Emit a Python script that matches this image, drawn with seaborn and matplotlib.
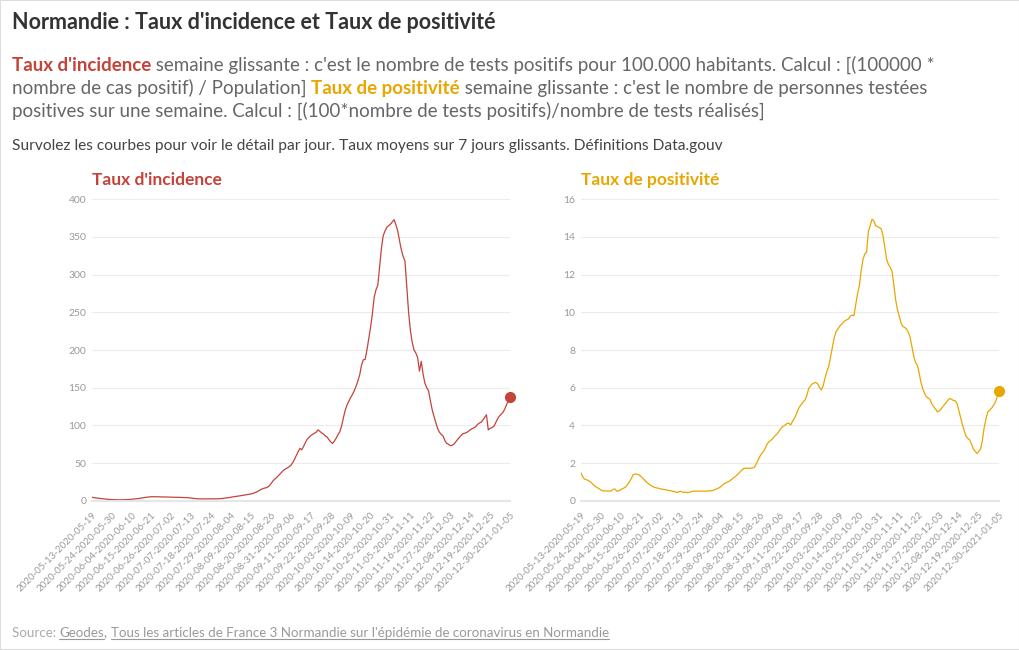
import numpy as np
import pandas as pd
import matplotlib
matplotlib.use("Agg")
import matplotlib.pyplot as plt
from matplotlib.lines import Line2D
from matplotlib.patches import Rectangle
import seaborn as sns

# Rolling 7-day windows, labelled by start date - end date
start_dates = pd.date_range("2020-05-13", "2020-12-30", freq="D")
semaines = [d.strftime("%Y-%m-%d") + "-" + (d + pd.Timedelta(days=6)).strftime("%Y-%m-%d")
            for d in start_dates]

# Taux d'incidence (pour 100.000 habitants)
incidence = [
    4.5, 4.1, 3.8, 3.5, 3.2, 2.9, 2.6, 2.3, 2.0, 1.8,
    1.6, 1.5, 1.4, 1.3, 1.3, 1.2, 1.2, 1.2, 1.3, 1.4,
    1.5, 1.7, 1.9, 2.1, 2.3, 2.6, 3.0, 3.4, 3.8, 4.2,
    4.5, 4.8, 5.1, 5.3, 5.3, 5.2, 5.2, 5.1, 5.0, 5.0,
    5.0, 4.9, 4.8, 4.8, 4.7, 4.6, 4.6, 4.5, 4.5, 4.4,
    4.3, 4.2, 4.1, 4.0, 3.7, 3.4, 3.1, 2.8, 2.6, 2.5,
    2.5, 2.4, 2.4, 2.4, 2.5, 2.5, 2.5, 2.4, 2.5, 2.5,
    2.6, 2.7, 2.9, 3.2, 3.5, 3.8, 4.2, 4.7, 5.1, 5.5,
    5.8, 6.1, 6.5, 6.9, 7.3, 7.7, 8.1, 8.5, 9.0, 9.6,
    10.5, 11.5, 12.8, 14.2, 15.5, 16.4, 17.0, 17.8, 19.5, 22.5,
    26.0, 28.5, 30.5, 33.0, 35.5, 38.0, 40.5, 42.0, 43.5, 45.0,
    47.0, 50.5, 55.0, 60.0, 65.0, 69.5, 67.5, 72.0, 77.0, 81.5,
    84.0, 86.5, 88.0, 89.5, 91.0, 94.0, 92.0, 90.0, 88.5, 86.0,
    84.5, 81.0, 78.0, 76.0, 79.0, 83.0, 87.5, 91.5, 99.0, 110.0,
    120.0, 127.0, 132.0, 137.0, 141.0, 146.0, 152.0, 159.0, 167.0, 180.0,
    187.0, 187.5, 200.0, 215.0, 230.0, 248.0, 270.0, 280.0, 286.0, 310.0,
    335.0, 352.0, 358.0, 363.0, 365.0, 367.0, 370.0, 373.0, 366.0, 358.0,
    345.0, 333.0, 324.0, 318.0, 285.0, 250.0, 226.0, 210.0, 200.0, 196.0,
    190.0, 172.0, 185.0, 168.0, 156.0, 150.0, 146.0, 133.0, 121.0, 112.0,
    104.0, 96.0, 91.0, 88.0, 86.0, 80.0, 76.0, 75.0, 73.0, 73.5,
    75.0, 78.0, 81.0, 84.0, 86.5, 89.0, 89.5, 90.5, 92.0, 94.0,
    95.5, 96.5, 98.0, 101.0, 103.0, 104.0, 107.0, 110.5, 114.0, 94.0,
    96.0, 97.0, 98.5, 103.0, 108.0, 112.0, 114.5, 117.0, 121.0, 127.0,
    132.0, 138.0,
]

# Taux de positivite (%)
positivite = [
    1.50, 1.30, 1.15, 1.12, 1.08, 1.02, 0.95, 0.85, 0.76, 0.70,
    0.65, 0.58, 0.53, 0.52, 0.52, 0.51, 0.51, 0.53, 0.60, 0.62,
    0.50, 0.52, 0.58, 0.63, 0.68, 0.74, 0.88, 1.02, 1.18, 1.38,
    1.42, 1.41, 1.38, 1.32, 1.22, 1.12, 1.02, 0.94, 0.86, 0.80,
    0.74, 0.70, 0.68, 0.66, 0.63, 0.61, 0.60, 0.58, 0.56, 0.54,
    0.52, 0.50, 0.48, 0.44, 0.46, 0.50, 0.47, 0.44, 0.46, 0.42,
    0.44, 0.48, 0.50, 0.51, 0.50, 0.51, 0.51, 0.50, 0.51, 0.51,
    0.51, 0.52, 0.52, 0.54, 0.58, 0.62, 0.66, 0.72, 0.80, 0.88,
    0.94, 0.98, 1.03, 1.10, 1.18, 1.25, 1.33, 1.42, 1.52, 1.62,
    1.70, 1.73, 1.72, 1.72, 1.73, 1.74, 1.78, 1.95, 2.15, 2.35,
    2.50, 2.62, 2.78, 3.00, 3.12, 3.20, 3.28, 3.40, 3.50, 3.60,
    3.75, 3.88, 3.95, 4.02, 4.10, 4.12, 4.02, 4.20, 4.35, 4.55,
    4.80, 5.00, 5.12, 5.25, 5.35, 5.60, 5.95, 6.10, 6.20, 6.25,
    6.28, 6.20, 6.00, 5.88, 6.10, 6.50, 6.85, 7.10, 7.60, 8.10,
    8.60, 8.95, 9.10, 9.25, 9.35, 9.45, 9.55, 9.60, 9.65, 9.80,
    9.85, 9.82, 10.40, 11.00, 11.40, 12.20, 12.80, 13.10, 13.20, 14.30,
    14.60, 14.95, 14.85, 14.60, 14.55, 14.50, 14.45, 14.10, 13.50, 12.85,
    12.55, 12.40, 12.20, 11.50, 10.70, 10.15, 9.80, 9.45, 9.25, 9.20,
    9.12, 8.95, 8.70, 8.20, 7.70, 7.35, 7.20, 6.80, 6.30, 5.95,
    5.70, 5.52, 5.45, 5.38, 5.15, 5.00, 4.88, 4.72, 4.75, 4.85,
    4.98, 5.10, 5.22, 5.34, 5.43, 5.38, 5.32, 5.30, 5.15, 4.78,
    4.40, 4.02, 3.70, 3.42, 3.30, 3.22, 3.00, 2.75, 2.62, 2.51,
    2.62, 2.75, 3.20, 3.90, 4.35, 4.72, 4.80, 4.90, 5.05, 5.20,
    5.45, 5.82,
]

incidence_ticks = [0, 50, 100, 150, 200, 250, 300, 350, 400]
positivite_ticks = [0, 2, 4, 6, 8, 10, 12, 14, 16]

RED = "#c4433a"
GOLD = "#e8a700"
GRAY = "#666666"

df = pd.DataFrame({"semaine": semaines, "incidence": incidence, "positivite": positivite})

sns.set_theme(style="white")
plt.rcParams["font.family"] = ["Lato", "DejaVu Sans"]

W, H = 1020, 650
fig = plt.figure(figsize=(W / 100, H / 100), dpi=100)
fig.patch.set_facecolor("white")
fig.add_artist(Rectangle((0, 0), 1, 1, transform=fig.transFigure, fill=False,
                         edgecolor="#dddddd", linewidth=1.5))

renderer = fig.canvas.get_renderer()


def segments(x_px, y_px, parts, size):
    # draw a line of text made of coloured pieces, one after the other
    x = x_px / W
    for text, color, weight, ul in parts:
        t = fig.text(x, 1 - y_px / H, text, color=color, fontsize=size,
                     fontweight=weight, va="baseline", ha="left")
        bb = t.get_window_extent(renderer)
        if ul:
            yl = bb.y0 / H
            fig.add_artist(Line2D([bb.x0 / W, bb.x1 / W], [yl, yl], color=color,
                                  linewidth=0.8, transform=fig.transFigure))
        x = bb.x1 / W


fig.text(12 / W, 1 - 29 / H, "Normandie : Taux d'incidence et Taux de positivité",
         fontsize=15.5, fontweight="bold", color="#333333", va="baseline")

segments(12, 71, [("Taux d'incidence", RED, "bold", False),
                  (" semaine glissante : c'est le nombre de tests positifs pour 100.000 habitants. Calcul : [(100000 *",
                   GRAY, "normal", False)], 13.5)
segments(12, 94, [("nombre de cas positif) / Population] ", GRAY, "normal", False),
                  ("Taux de positivité", GOLD, "bold", False),
                  (" semaine glissante : c'est le nombre de personnes testées", GRAY, "normal", False)], 13.5)
segments(12, 117, [("positives sur une semaine. Calcul : [(100*nombre de tests positifs)/nombre de tests réalisés]",
                    GRAY, "normal", False)], 13.5)
fig.text(12 / W, 1 - 150 / H,
         "Survolez les courbes pour voir le détail par jour. Taux moyens sur 7 jours glissants. Définitions Data.gouv",
         fontsize=11.2, color="#444444", va="baseline")

segments(12, 637, [("Source: ", "#aaaaaa", "normal", False),
                   ("Geodes", "#999999", "normal", True),
                   (", ", "#999999", "normal", False),
                   ("Tous les articles de France 3 Normandie sur l'épidémie de coronavirus en Normandie",
                    "#999999", "normal", True)], 9.6)

bottom = 1 - 500.7 / H
height = (500.7 - 199.3) / H
ax1 = fig.add_axes([91.7 / W, bottom, (510 - 91.7) / W, height])
ax2 = fig.add_axes([580.7 / W, bottom, (998.7 - 580.7) / W, height])

panels = [
    (ax1, "incidence", RED, incidence_ticks, "Taux d'incidence"),
    (ax2, "positivite", GOLD, positivite_ticks, "Taux de positivité"),
]

n = len(semaines)
for ax, col, color, yt, title in panels:
    sns.lineplot(data=df, x="semaine", y=col, ax=ax, color=color, linewidth=0.9)
    ax.plot([n - 1], [df[col].iloc[-1]], "o", color=color, markersize=7, clip_on=False, zorder=5)
    ax.set_xlim(0, n - 1)
    ax.set_ylim(yt[0], yt[-1])
    ax.set_yticks(yt)
    ax.set_yticklabels([str(v) for v in yt], fontsize=7.5, color="#999999")
    ax.set_xticks(range(0, n, 11))
    ax.set_xticklabels([semaines[i] for i in range(0, n, 11)], rotation=45,
                       ha="right", va="top", rotation_mode="anchor",
                       fontsize=7, color="#999999")
    ax.set_xticks(range(n), minor=True)
    ax.tick_params(axis="x", which="both", length=4, width=0.6, color="#e0e0e0",
                   direction="out", pad=3)
    ax.tick_params(axis="y", length=0, pad=4)
    ax.grid(axis="y", color="#ececec", linewidth=0.8)
    for s in ["top", "right", "left"]:
        ax.spines[s].set_visible(False)
    ax.spines["bottom"].set_color("#e6e6e6")
    ax.spines["bottom"].set_linewidth(1.5)
    ax.set_xlabel("")
    ax.set_ylabel("")
    ax.set_title(title, loc="left", fontsize=12.5, fontweight="bold", color=color, pad=10)

fig.savefig("out.png", dpi=100, facecolor="white")
